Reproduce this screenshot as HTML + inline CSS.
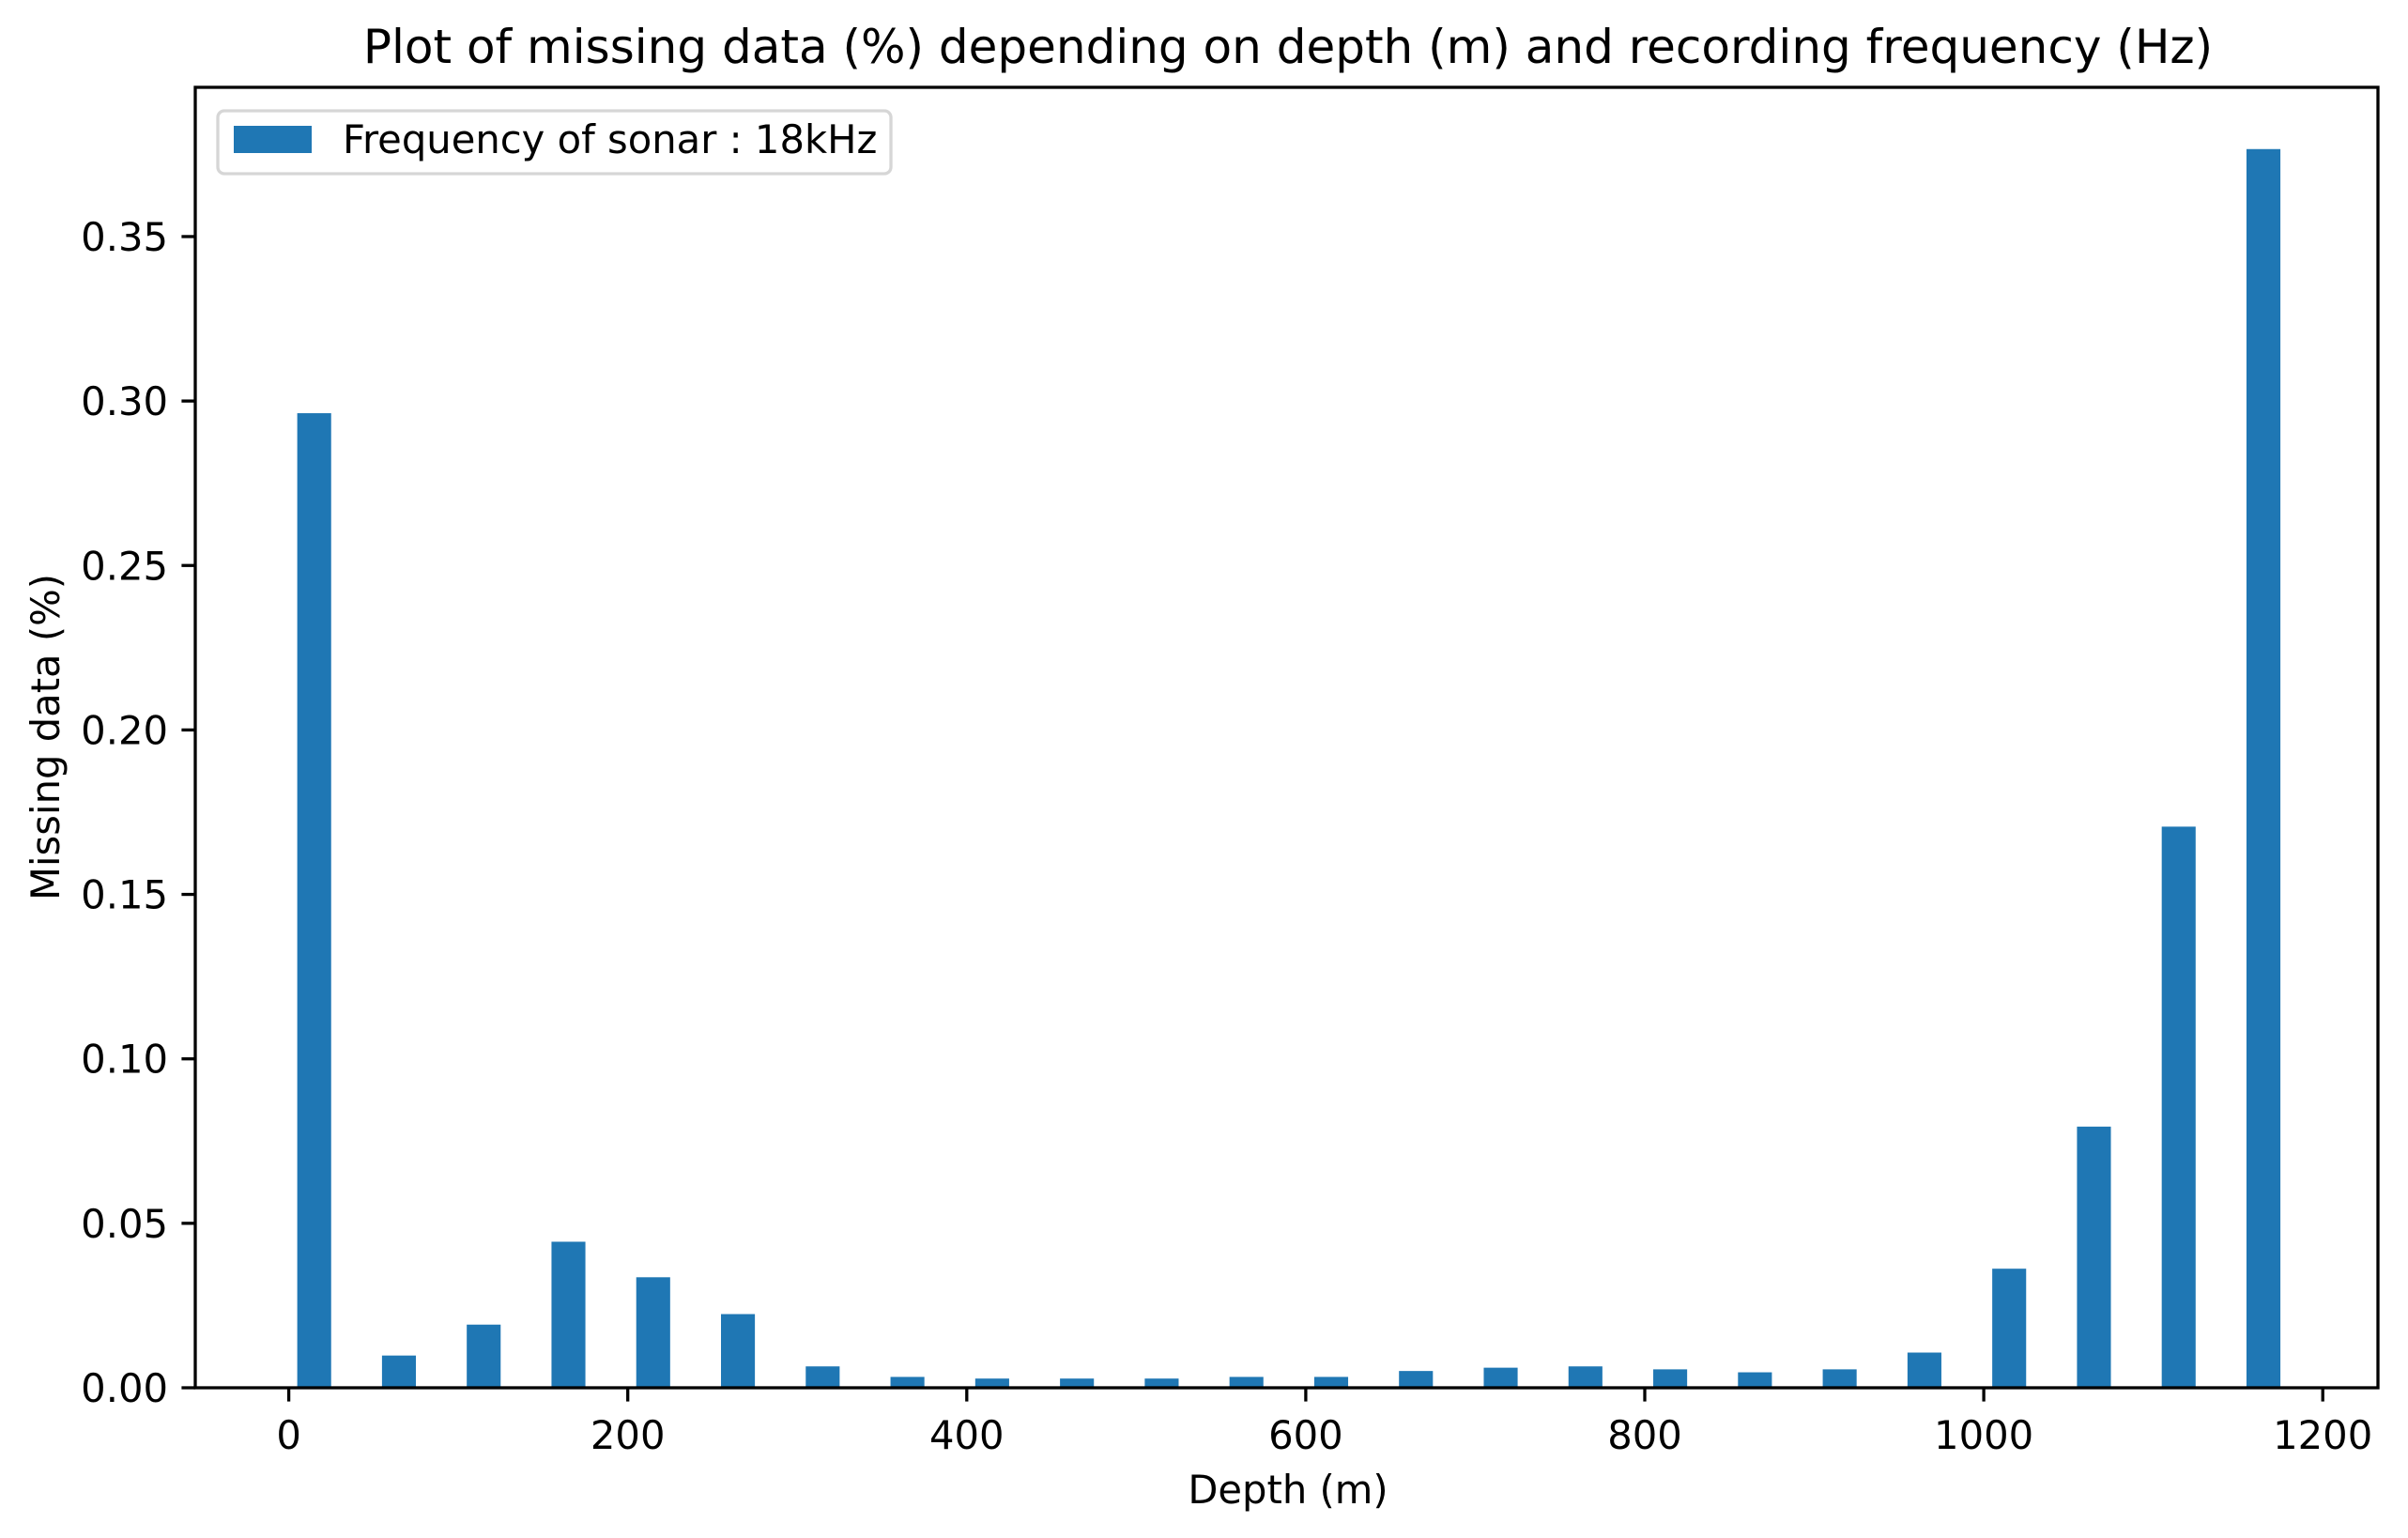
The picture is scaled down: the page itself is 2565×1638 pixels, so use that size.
<!DOCTYPE html>
<html><head><meta charset="utf-8">
<style>
html,body{margin:0;padding:0;background:#fff;}
svg{display:block;font-family:"DejaVu Sans","Liberation Sans",sans-serif;}
</style></head>
<body>
<svg id="chart" width="2565" height="1638" viewBox="0 0 2565 1638" xmlns="http://www.w3.org/2000/svg">
<rect width="2565" height="1638" fill="#fff"/>
<text x="1372" y="67" font-size="50" text-anchor="middle" fill="#000">Plot of missing data (%) depending on depth (m) and recording frequency (Hz)</text>
<g id="bars"></g>
<g id="xticks"></g>
<g id="yticks"></g>
<rect x="208" y="93" width="2325" height="1385" fill="none" stroke="#000" stroke-width="3.3"/>
<text x="1372" y="1601" font-size="41.7" text-anchor="middle" fill="#000">Depth (m)</text>
<text transform="translate(63,785) rotate(-90)" font-size="41.7" text-anchor="middle" fill="#000">Missing data (%)</text>
<g>
<rect x="232" y="118" width="717" height="67" rx="7" fill="#fff" fill-opacity="0.8" stroke="#d6d6d6" stroke-width="3.3"/>
<rect x="249" y="134" width="83" height="29" fill="#1f77b4"/>
<text x="365" y="163" font-size="41.7" fill="#000">Frequency of sonar : 18kHz</text>
</g>
</svg>
<script>
const binStarts = [5,55,105,155,205,255,305,355,405,455,505,555,605,655,705,755,805,855,905,955,1005,1055,1105,1155];
const missingValues = [0.2963,0.0098,0.0192,0.0444,0.0336,0.0224,0.0065,0.0033,0.0028,0.0028,0.0028,0.0033,0.0033,0.0051,0.0061,0.0065,0.0056,0.0047,0.0056,0.0107,0.0362,0.0794,0.1706,0.3766];
const barWidthData = 20;
const xTickValues = [0,200,400,600,800,1000,1200];
const yTickValues = [0,0.05,0.10,0.15,0.20,0.25,0.30,0.35];
const yTickLabels = ["0.00","0.05","0.10","0.15","0.20","0.25","0.30","0.35"];

const NS = "http://www.w3.org/2000/svg";
const X0 = 307.6, XS = 1.8055;
const Y0 = 1478, YS = 3503;
function xPx(v){ return X0 + v*XS; }
function yPx(v){ return Y0 - v*YS; }

const bars = document.getElementById('bars');
binStarts.forEach((s,i)=>{
  const r = document.createElementNS(NS,'rect');
  
  
  r.setAttribute('x', xPx(s));
  r.setAttribute('width', barWidthData*XS);
  r.setAttribute('y', yPx(missingValues[i]));
  r.setAttribute('height', Y0 - yPx(missingValues[i]));
  r.setAttribute('fill', '#1f77b4');
  bars.appendChild(r);
});

const xt = document.getElementById('xticks');
xTickValues.forEach(v=>{
  const x = xPx(v);
  const l = document.createElementNS(NS,'line');
  
  
  l.setAttribute('x1', x); l.setAttribute('x2', x);
  l.setAttribute('y1', Y0); l.setAttribute('y2', Y0 + 14.6);
  l.setAttribute('stroke', '#000'); l.setAttribute('stroke-width', '3.3');
  xt.appendChild(l);
  const t = document.createElementNS(NS,'text');
  
  
  t.setAttribute('x', x); t.setAttribute('y', Y0 + 65);
  t.setAttribute('font-size', '41.7'); t.setAttribute('text-anchor', 'middle');
  t.textContent = String(v);
  xt.appendChild(t);
});

const yt = document.getElementById('yticks');
yTickValues.forEach((v,i)=>{
  const y = yPx(v);
  const l = document.createElementNS(NS,'line');
  
  
  l.setAttribute('x1', 208 - 14.6); l.setAttribute('x2', 208);
  l.setAttribute('y1', y); l.setAttribute('y2', y);
  l.setAttribute('stroke', '#000'); l.setAttribute('stroke-width', '3.3');
  yt.appendChild(l);
  const t = document.createElementNS(NS,'text');
  
  
  t.setAttribute('x', 179); t.setAttribute('y', y + 15);
  t.setAttribute('font-size', '41.7'); t.setAttribute('text-anchor', 'end');
  t.textContent = yTickLabels[i];
  yt.appendChild(t);
});
</script>
</body></html>
